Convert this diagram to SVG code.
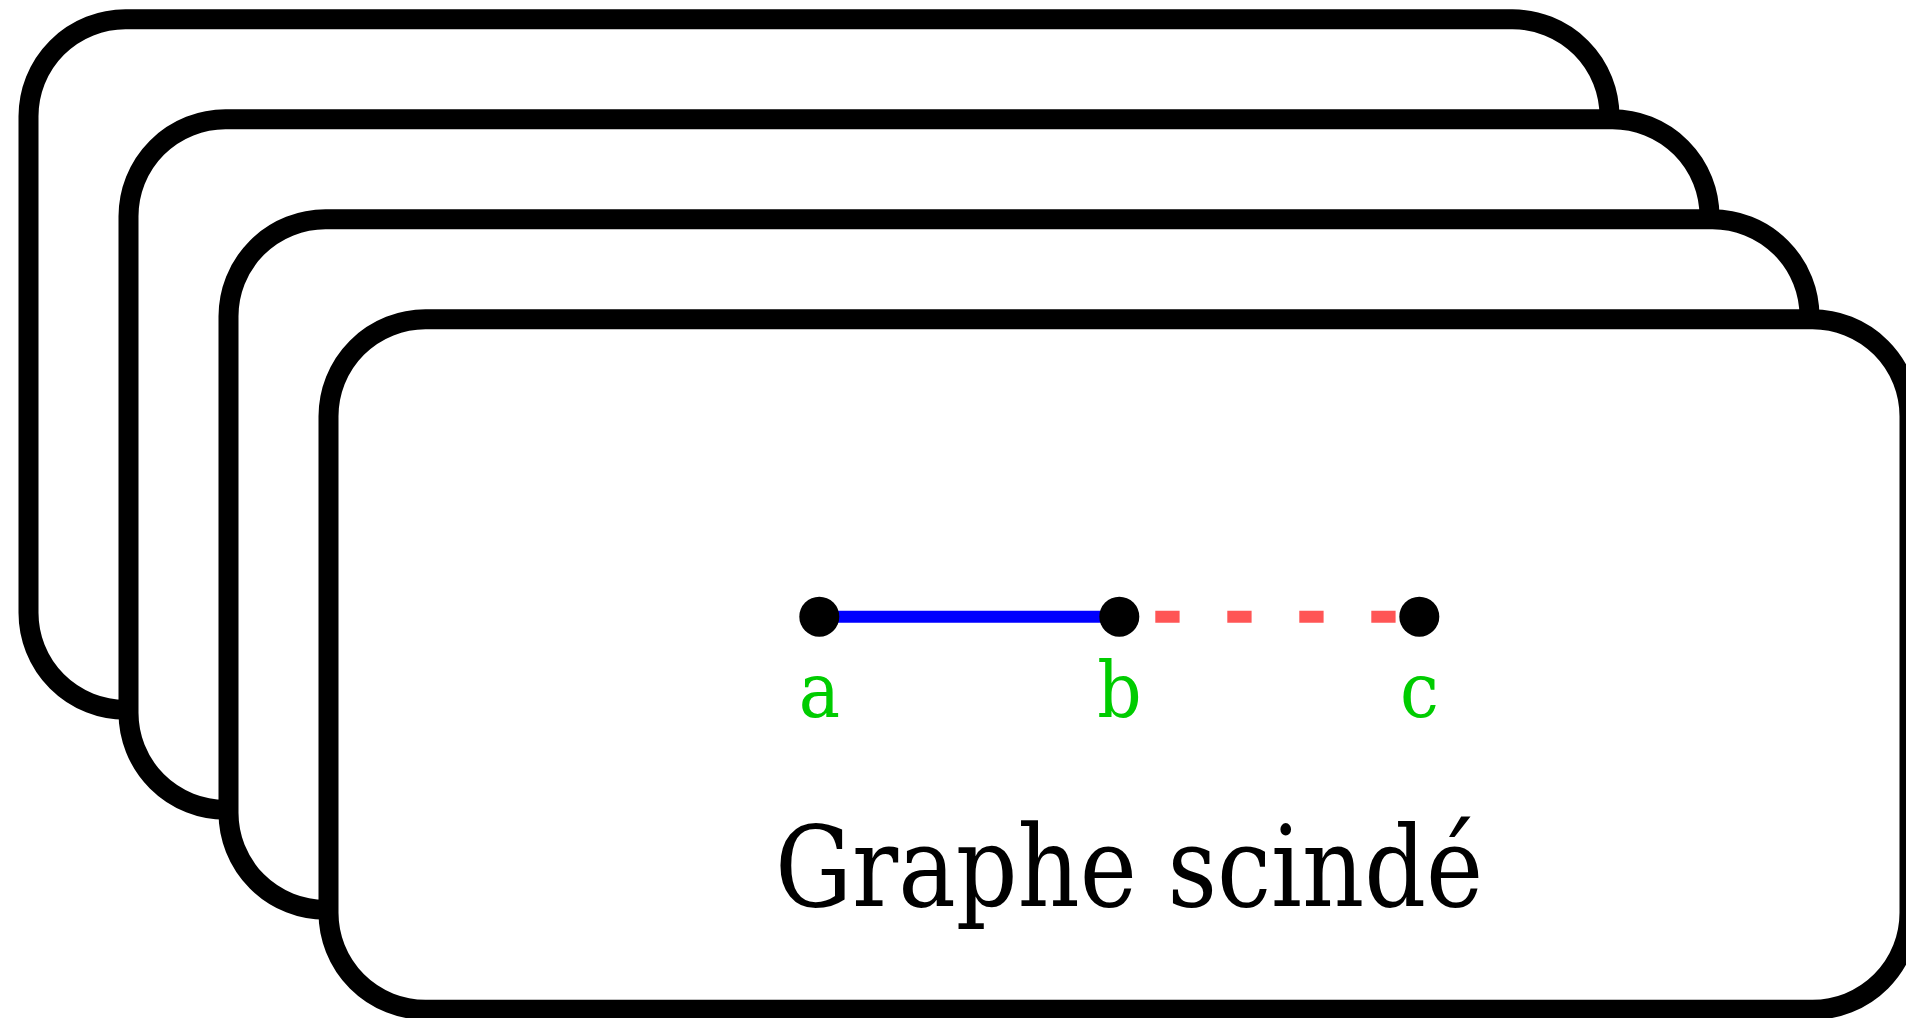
<svg xmlns="http://www.w3.org/2000/svg" width="1906" height="1018" viewBox="0 0 1906 1018">
  <style>
    .frame { fill: #ffffff; stroke: #000000; stroke-width: 20; }
    .node { fill: #000000; }
    .lbl { font-family: "DejaVu Serif Condensed", "DejaVu Serif", "Liberation Serif", serif; font-stretch: condensed; font-size: 77px; fill: #00cc00; text-anchor: middle; }
    .title { font-family: "DejaVu Serif Condensed", "DejaVu Serif", "Liberation Serif", serif; font-stretch: condensed; font-size: 112px; fill: #000000; text-anchor: middle; }
    .edge-solid { stroke: #0000ff; stroke-width: 12; fill: none; }
    .edge-dash { stroke: #ff5555; stroke-width: 12; fill: none; stroke-dasharray: 24.3 47.7; }
  </style>
  <rect fill="#ffffff" x="0" y="0" width="1906" height="1018"/>
  <g id="stack">
    <rect class="frame" x="28.5" y="19.3" width="1581" height="690.5" rx="97" ry="97"/>
    <rect class="frame" x="128.5" y="119.3" width="1581" height="690.5" rx="97" ry="97"/>
    <rect class="frame" x="228.5" y="219.3" width="1581" height="690.5" rx="97" ry="97"/>
    <rect class="frame" x="328.5" y="319.3" width="1581" height="690.5" rx="97" ry="97"/>
  </g>
  <g id="connectors">
    <line id="edge-a-b" class="edge-solid" x1="819.3" y1="616.7" x2="1119.3" y2="616.7"/>
    <line id="edge-b-c" class="edge-dash" x1="1155.3" y1="616.7" x2="1399.3" y2="616.7"/>
  </g>
  <g id="node-a">
    <circle class="node" cx="819.3" cy="616.7" r="20"/>
    <text class="lbl" x="819.3" y="716.7">a</text>
  </g>
  <g id="node-b">
    <circle class="node" cx="1119.3" cy="616.7" r="20"/>
    <text class="lbl" x="1119.3" y="716.7">b</text>
  </g>
  <g id="node-c">
    <circle class="node" cx="1419.3" cy="616.7" r="20"/>
    <text class="lbl" x="1419.3" y="716.7">c</text>
  </g>
  <text id="title" class="title" x="1129" y="906" textLength="708" lengthAdjust="spacingAndGlyphs">Graphe scindé</text>
</svg>
